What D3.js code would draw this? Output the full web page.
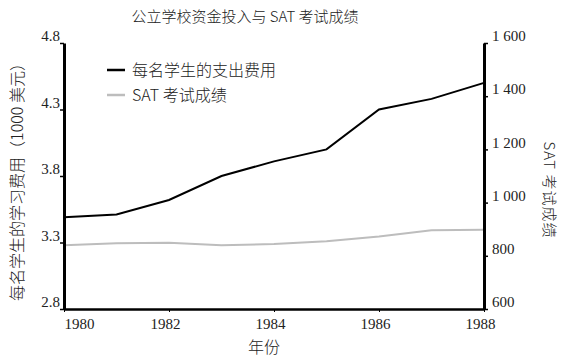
<!DOCTYPE html>
<html><head><meta charset="utf-8">
<script src="https://cdn.jsdelivr.net/npm/d3@7"></script>
<style>
body{margin:0;background:#fff;}
svg text{fill:#222;}
</style></head>
<body><svg id="c" width="566" height="358"></svg>
<script>
const years = [1980,1981,1982,1983,1984,1985,1986,1987,1988];
const spending = [3.49,3.51,3.62,3.80,3.91,4.00,4.30,4.38,4.50];
const sat = [840,847,849,840,844,855,873,896,898];
const xTicks = [1980,1982,1984,1986,1988];
const leftTicks = [2.8,3.3,3.8,4.3,4.8];
const rightTicks = [600,800,1000,1200,1400,1600];
const title = "公立学校资金投入与 SAT 考试成绩";
const seriesNames = ["每名学生的支出费用","SAT 考试成绩"];

const NUMF = '"Liberation Serif","DejaVu Serif",serif';
const CJKF = '"Noto Sans CJK SC",sans-serif';
const svg = d3.select("#c");
const L=64, R=484, T=43, B=309;
const x = d3.scaleLinear().domain([1980,1988]).range([L,R]);
const yL = d3.scaleLinear().domain([2.8,4.8]).range([B,T]);
const yR = d3.scaleLinear().domain([600,1600]).range([B,T]);

// lines
const lineL = d3.line().x((d,i)=>x(years[i])).y(d=>yL(d));
const lineR = d3.line().x((d,i)=>x(years[i])).y(d=>yR(d));
svg.append("path").attr("d",lineR(sat)).attr("fill","none").attr("stroke","#bdbdbd").attr("stroke-width",2);
svg.append("path").attr("d",lineL(spending)).attr("fill","none").attr("stroke","#000").attr("stroke-width",2);

function styleNums(g){
  g.attr("font-family",null);
  g.selectAll("text").attr("font-family",NUMF).style("font-family",NUMF).style("font-size","15px").style("fill","#222");
}
// axes
const ax = svg.append("g").attr("transform",`translate(0,${B})`)
  .call(d3.axisBottom(x).tickValues(xTicks).tickFormat(d3.format("d")).tickSize(3).tickSizeOuter(0));
ax.select(".domain").attr("stroke-width",2.5);
styleNums(ax);
ax.selectAll("text").attr("dy","0.95em").attr("dx",d=>d===1980?"15px":"-4px");

const al = svg.append("g").attr("transform",`translate(${L},0)`)
  .call(d3.axisLeft(yL).tickValues(leftTicks).tickFormat(d3.format(".1f")).tickSize(4).tickSizeOuter(0));
al.select(".domain").attr("stroke-width",3);
al.selectAll(".tick line").attr("stroke-width",1.5);
styleNums(al);
al.selectAll("text").attr("x",-4).attr("dy","-0.15em");

const fmtR = d=>d3.format(",")(d).replace(",", " ");
const ar = svg.append("g").attr("transform",`translate(${R},0)`)
  .call(d3.axisRight(yR).tickValues(rightTicks).tickFormat(fmtR).tickSize(4).tickSizeOuter(0));
ar.select(".domain").attr("stroke-width",3);
ar.selectAll(".tick line").attr("stroke-width",1.5);
styleNums(ar);
ar.selectAll("text").attr("x",8).attr("dy","-0.15em");

// title
svg.append("text").attr("x",245).attr("y",22).attr("text-anchor","middle")
  .style("font-family",CJKF).style("font-weight",300).style("font-size","15px").text(title);

// axis titles
svg.append("text").attr("x",264).attr("y",353).attr("text-anchor","middle")
  .style("font-family",CJKF).style("font-weight",300).style("font-size","16px").text("年份");
svg.append("text").attr("transform",`translate(23,${(T+B)/2+2}) rotate(-90)`)
  .attr("text-anchor","middle").style("font-family",CJKF).style("font-weight",300).style("font-size","16px")
  .text("每名学生的学习费用（1000 美元）");
svg.append("text").attr("transform",`translate(544,${(T+B)/2+14}) rotate(90)`)
  .attr("text-anchor","middle").style("font-family",CJKF).style("font-weight",300).style("font-size","15px")
  .style("letter-spacing","1px").text("SAT 考试成绩");

// legend
const lg = svg.append("g");
const colors = ["#000","#bdbdbd"];
seriesNames.forEach((n,i)=>{
  const yy = 70 + i*25;
  lg.append("line").attr("x1",107).attr("x2",125).attr("y1",yy).attr("y2",yy).attr("stroke",colors[i]).attr("stroke-width",2.5);
  lg.append("text").attr("x",132).attr("y",yy+6).style("font-family",CJKF).style("font-weight",300)
    .style("font-size","16px").text(n);
});
</script></body></html>
